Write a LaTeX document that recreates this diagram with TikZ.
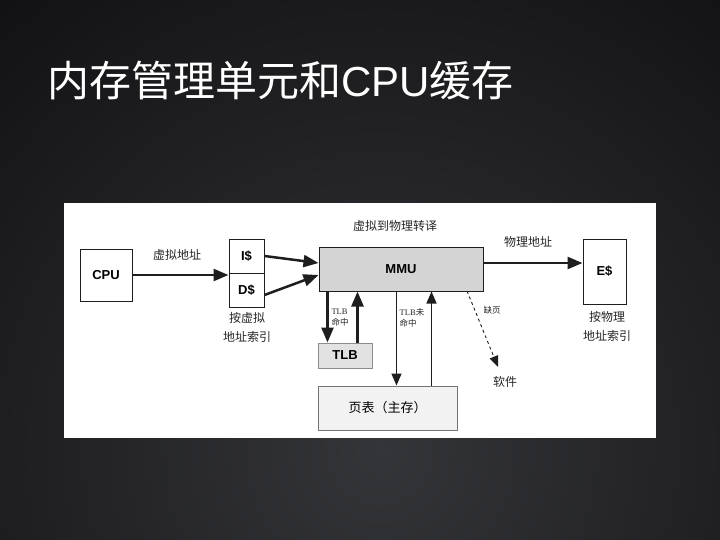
\documentclass[tikz,border=0pt]{standalone}
\usepackage{fontspec}
\setmainfont{Liberation Sans}
\newfontfamily\cjk{Noto Sans CJK SC}
\newfontfamily\serifl{Liberation Serif}
\usetikzlibrary{arrows.meta,calc}
\definecolor{bgdark}{RGB}{16,15,18}
\definecolor{bglight}{RGB}{52,53,56}
\definecolor{ln}{RGB}{30,30,30}
\definecolor{mmufill}{RGB}{212,212,212}
\definecolor{tlbfill}{RGB}{226,226,226}
\definecolor{ptfill}{RGB}{242,242,242}
\tikzset{
  box/.style={draw=ln, line width=1pt, inner sep=0pt, font=\bfseries\fontsize{13}{15}\selectfont},
  arr/.style={draw=ln, line width=2.5pt, -{Triangle[length=15pt,width=12pt]}},
  arrthin/.style={draw=ln, line width=1.5pt, -{Triangle[length=12pt,width=10pt]}},
  arrdash/.style={draw=ln, line width=0.9pt, dashed, -{Triangle[length=11pt,width=9pt]}},
  lbl/.style={font=\cjk\fontsize{12}{19}\selectfont, text=black!85, align=center},
  sml/.style={font=\cjk\fontsize{8.5}{11}\selectfont, text=black!85, align=left, inner sep=0pt}
}
\begin{document}
\begin{tikzpicture}[x=1pt,y=-1pt]
\useasboundingbox (0,0) rectangle (720,540);
\fill[bgdark] (0,0) rectangle (720,540);
\begin{scope}
\clip (0,0) rectangle (720,540);
\shade[inner color=bglight, outer color=bgdark] (380,450) circle (620);
\end{scope}
\node[anchor=base west, inner sep=0pt, text=white, font=\cjk\fontsize{42}{45}\selectfont] (title) at (47,97) {内存管理单元和{\rmfamily CPU}缓存};
\fill[white] (64,203) rectangle (656,438);
% boxes
\node[box, minimum width=52pt, minimum height=52pt] (cpu) at (106,275) {CPU};
\node[box, minimum width=35pt, minimum height=34pt] (ic) at (246.5,256) {I\$};
\node[box, minimum width=35pt, minimum height=34pt] (dc) at (246.5,290) {D\$};
\node[box, fill=mmufill, minimum width=164pt, minimum height=44pt] (mmu) at (401,269) {MMU};
\node[box, minimum width=43pt, minimum height=65pt] (ec) at (604.5,271.5) {E\$};
\node[box, draw=black!45, fill=tlbfill, minimum width=54pt, minimum height=25pt] (tlb) at (345,355.5) {TLB};
\node[box, draw=black!55, fill=ptfill, minimum width=139pt, minimum height=44pt, font=\cjk\fontsize{13}{15}\selectfont] (pt) at (387.5,408) {页表（主存）};
% labels
\node[lbl] (l1) at (177,255) {虚拟地址};
\node[lbl] (l2) at (247,327) {按虚拟\\地址索引};
\node[lbl] (l3) at (395,226) {虚拟到物理转译};
\node[lbl] (l4) at (528,242) {物理地址};
\node[lbl] (l5) at (607,326) {按物理\\地址索引};
\node[sml] (l6) at (340,317.5) {{\serifl TLB}\\命中};
\node[sml] (l7) at (412,317.5) {{\serifl TLB}未\\命中};
\node[sml] (l8) at (492,310) {缺页};
% coordinates
\coordinate (tdn) at ($(tlb.north west)+(10,0)$);
\coordinate (tup) at ($(tlb.north west)+(40,0)$);
\coordinate (pdn) at ($(pt.north west)+(79,0)$);
\coordinate (pup) at ($(pt.north west)+(114,0)$);
\coordinate (mi1) at ($(mmu.west)+(0,-6)$);
\coordinate (mi2) at ($(mmu.west)+(0,6)$);
\coordinate (dco) at ($(dc.east)+(0,5)$);
\coordinate (mo) at ($(mmu.east)+(0,-6)$);
\coordinate (ds) at (467,291);
\coordinate (de) at (498,367);
\node[lbl, anchor=north] (sw) at (505,373) {软件};
% connectors
\draw[arr] (cpu.east) -- (cpu.east -| dc.west);
\draw[arr] (ic.east) -- (mi1);
\draw[arr] (dco) -- (mi2);
\draw[arr] (mo) -- (mo -| ec.west);
\draw[arr] (mmu.south -| tdn) -- (tdn);
\draw[arr] (tup) -- (mmu.south -| tup);
\draw[arrthin] (mmu.south -| pdn) -- (pdn);
\draw[arrthin] (pup) -- (mmu.south -| pup);
\draw[arrdash] (ds) -- (de);
\end{tikzpicture}
\end{document}
